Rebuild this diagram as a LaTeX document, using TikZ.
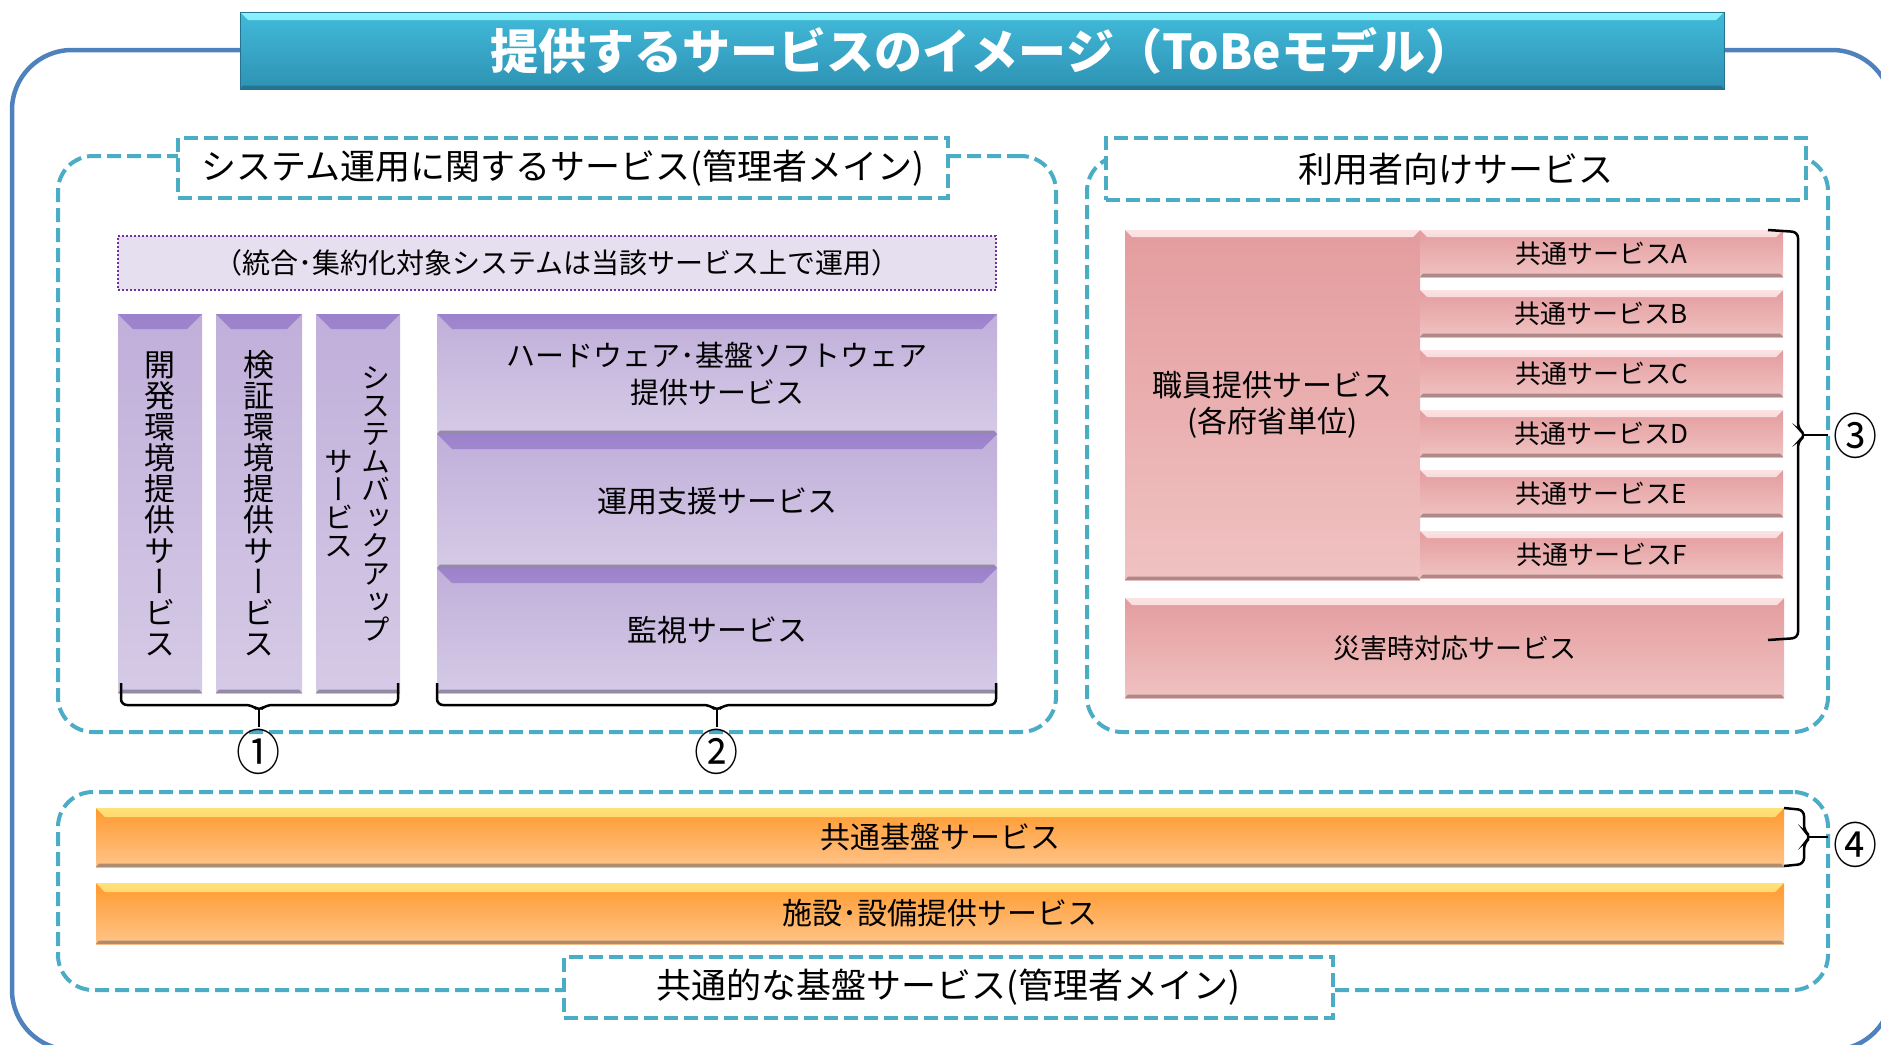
\documentclass[tikz,border=0pt]{standalone}
\usepackage{fontspec}
\usepackage{graphicx}
\setmainfont{Noto Sans CJK JP}
\newfontfamily\vjp[RawFeature=+vert]{Noto Sans CJK JP}
\usetikzlibrary{calc}
\definecolor{dashcyan}{HTML}{4BACC6}
\definecolor{frameblue}{HTML}{4F81BD}
\definecolor{dotpurple}{HTML}{7030A0}
\definecolor{dotfill}{HTML}{E6DFEF}
\definecolor{pTopA}{HTML}{9C82CC}
\definecolor{pTopB}{HTML}{BFAEDA}
\definecolor{pBaseT}{HTML}{C0AFDA}
\definecolor{pBaseB}{HTML}{D5CAE6}
\definecolor{pEdge}{HTML}{958AA6}
\definecolor{kTopA}{HTML}{FBE3E3}
\definecolor{kTopB}{HTML}{E6A2A4}
\definecolor{kBaseT}{HTML}{E49C9E}
\definecolor{kBaseB}{HTML}{F0C2C2}
\definecolor{kEdge}{HTML}{B08888}
\definecolor{oTopA}{HTML}{FFE27A}
\definecolor{oTopB}{HTML}{FF9E36}
\definecolor{oBaseT}{HTML}{FF9A2E}
\definecolor{oBaseB}{HTML}{FFC489}
\definecolor{oEdge}{HTML}{AE8C6E}
\definecolor{tTopA}{HTML}{8CF3FF}
\definecolor{tTopB}{HTML}{46BFDE}
\definecolor{tBaseT}{HTML}{42BADA}
\definecolor{tBaseB}{HTML}{2E92B4}
\definecolor{tEdge}{HTML}{24738F}
\tikzset{
  shp/.style={rectangle, inner sep=0pt, outer sep=0pt, align=center, text=black},
  bevel/.style n args={4}{path picture={
    \shade[top color=#1, bottom color=#2]
      (path picture bounding box.north west) -- (path picture bounding box.north east)
      -- ([xshift=-#4pt, yshift=-#4pt]path picture bounding box.north east)
      -- ([xshift=#4pt, yshift=-#4pt]path picture bounding box.north west) -- cycle;
    \fill[#3]
      (path picture bounding box.south west) -- (path picture bounding box.south east)
      -- ([xshift=-3pt, yshift=3.5pt]path picture bounding box.south east)
      -- ([xshift=3pt, yshift=3.5pt]path picture bounding box.south west) -- cycle;
  }},
  purp/.style={shp, top color=pBaseT, bottom color=pBaseB, bevel={pTopA}{pTopB}{pEdge}{15}},
  pink/.style={shp, top color=kBaseT, bottom color=kBaseB, bevel={kTopA}{kTopB}{kEdge}{7}},
  oran/.style={shp, top color=oBaseT, bottom color=oBaseB, bevel={oTopA}{oTopB}{oEdge}{9},
    font=\fontsize{30}{34}\selectfont},
  secframe/.style={shp, draw=dashcyan, line width=4pt, dash pattern=on 14pt off 6pt, rounded corners=35pt},
  labelbox/.style={shp, fill=white, draw=dashcyan, line width=4pt, dash pattern=on 14pt off 6pt,
    font=\fontsize{35}{40}\selectfont},
  vtext/.style={align=center, inner sep=0pt, font=\vjp\fontsize{31}{31}\selectfont},
  circnum/.style={inner sep=0pt, font=\fontsize{49}{49}\selectfont},
  bracepath/.style={draw=black, line width=2.5pt, rounded corners=6pt},
}
\begin{document}
\begin{tikzpicture}[x=1pt,y=-1pt]
\useasboundingbox (0,0) rectangle (1881,1044);
\clip (0,0) rectangle (1881,1044);
% outer frame
\node[shp, draw=frameblue, line width=4.5pt, rounded corners=60pt, minimum width=1880, minimum height=1000] (frame) at (952,550) {};
% title
\node[shp, top color=tBaseT, bottom color=tBaseB, draw=tEdge, line width=1pt,
  bevel={tTopA}{tTopB}{tEdge}{8}, minimum width=1484, minimum height=77,
  text=white, font=\bfseries\fontsize{48}{50}\selectfont] (title) at (982,50.5)
  {提供するサービスのイメージ（ToBeモデル）};
% section frames
\node[secframe, minimum width=998, minimum height=576] (sec1) at (557,444) {};
\node[secframe, minimum width=741, minimum height=576] (sec2) at (1457.5,444) {};
\node[secframe, minimum width=1770, minimum height=198] (sec4) at (943,891) {};
\node[labelbox, minimum width=770, minimum height=60] (lab1) at (563,168) {システム運用に関するサービス(管理者メイン)};
\node[labelbox, minimum width=700, minimum height=62] (lab2) at (1456,169) {利用者向けサービス};
\node[labelbox, minimum width=769, minimum height=61] (lab4) at (948.5,987.5) {共通的な基盤サービス(管理者メイン)};
% dotted note
\node[shp, fill=dotfill, draw=dotpurple, line width=2pt, dotted, minimum width=878, minimum height=54,
  font=\fontsize{28}{32}\selectfont] (note) at (557,263) {（統合･集約化対象システムは当該サービス上で運用）};
% vertical bars
\node[purp, minimum width=84, minimum height=379] (bar1) at (160,503.5) {};
\node[purp, minimum width=86, minimum height=379] (bar2) at (259,503.5) {};
\node[purp, minimum width=84, minimum height=379] (bar3) at (358,503.5) {};
\node[vtext] (bar1t) at (bar1.center) {開\\発\\環\\境\\提\\供\\サ\\ー\\ビ\\ス};
\node[vtext] (bar2t) at (bar2.center) {検\\証\\環\\境\\提\\供\\サ\\ー\\ビ\\ス};
\node[vtext, font=\vjp\fontsize{29}{28}\selectfont] (bar3r) at ($(bar3.center)+(18,0)$) {シ\\ス\\テ\\ム\\バ\\ッ\\ク\\ア\\ッ\\プ};
\node[vtext, font=\vjp\fontsize{29}{28}\selectfont] (bar3l) at ($(bar3.center)+(-19,0)$) {サ\\ー\\ビ\\ス};
% blocks
\node[purp, minimum width=560, minimum height=120, font=\fontsize{29}{37}\selectfont] (hw) at (717,374)
  {ハードウェア･基盤ソフトウェア\\提供サービス};
\node[purp, minimum width=560, minimum height=134, font=\fontsize{30}{34}\selectfont] (unyo) at (717,501) {運用支援サービス};
\node[purp, minimum width=560, minimum height=125, font=\fontsize{30}{34}\selectfont] (kanshi) at (717,630.5) {監視サービス};
% pink
\node[pink, minimum width=295, minimum height=350, font=\fontsize{30}{36}\selectfont] (shokuin) at (1272.5,405)
  {職員提供サービス\\(各府省単位)};
\node[pink, minimum width=363, minimum height=47, font=\fontsize{26}{30}\selectfont] (comA) at (1601.5,253.5) {共通サービスA};
\node[pink, minimum width=363, minimum height=47, font=\fontsize{26}{30}\selectfont] (comB) at (1601.5,313.5) {共通サービスB};
\node[pink, minimum width=363, minimum height=47, font=\fontsize{26}{30}\selectfont] (comC) at (1601.5,373.5) {共通サービスC};
\node[pink, minimum width=363, minimum height=47, font=\fontsize{26}{30}\selectfont] (comD) at (1601.5,433.5) {共通サービスD};
\node[pink, minimum width=363, minimum height=47, font=\fontsize{26}{30}\selectfont] (comE) at (1601.5,493.5) {共通サービスE};
\node[pink, minimum width=363, minimum height=47, font=\fontsize{26}{30}\selectfont] (comF) at (1601.5,554.5) {共通サービスF};
\node[pink, minimum width=659, minimum height=100, font=\fontsize{27}{30}\selectfont] (saigai) at (1454.5,648) {災害時対応サービス};
% orange
\node[oran, minimum width=1688, minimum height=59] (kiban) at (940,837.5) {共通基盤サービス};
\node[oran, minimum width=1688, minimum height=61] (shisetsu) at (940,913.5) {施設･設備提供サービス};
% braces
\draw[bracepath] (121,683) -- (121,705) -- (252,705) -- (259,711) -- (266,705) -- (398,705) -- (398,683);
\draw[bracepath] (259,709) -- (259,727);
\draw[bracepath] (437,683) -- (437,705) -- (710,705) -- (717,711) -- (724,705) -- (996,705) -- (996,683);
\draw[bracepath] (717,709) -- (717,727);
\draw[bracepath] (1768,230) -- (1798,232) -- (1798,429) -- (1806,435) -- (1798,441) -- (1798,638) -- (1768,640);
\draw[bracepath] (1804,435) -- (1828,435);
\draw[bracepath] (1784,808) -- (1804,810) -- (1804,831) -- (1811,837) -- (1804,843) -- (1804,864) -- (1784,866);
\draw[bracepath] (1809,837) -- (1828,837);
% numbers
\node[circnum] (n1) at (259,752) {\scalebox{0.9}[1]{①}};
\node[circnum] (n2) at (717,752) {\scalebox{0.9}[1]{②}};
\node[circnum] (n3) at (1856,436) {\scalebox{0.9}[1]{③}};
\node[circnum] (n4) at (1856,845) {\scalebox{0.9}[1]{④}};
\end{tikzpicture}
\end{document}
